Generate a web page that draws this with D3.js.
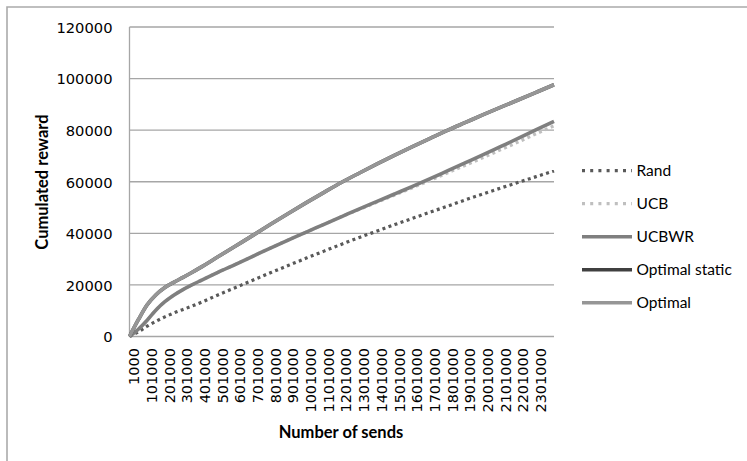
<!DOCTYPE html>
<html>
<head>
<meta charset="utf-8">
<script src="https://cdn.jsdelivr.net/npm/d3@7/dist/d3.min.js"></script>
<style>
  html, body { margin: 0; padding: 0; background: #fff; }
  svg { display: block; }
</style>
</head>
<body>
<svg id="chart" width="747" height="461"></svg>
<script>
// Number of sends at which the cumulated reward was sampled
const sends = [1000, 51000, 101000, 151000, 201000, 251000, 301000, 351000, 401000,
  501000, 601000, 701000, 801000, 901000, 1001000, 1101000, 1201000, 1301000, 1401000,
  1501000, 1601000, 1701000, 1801000, 1901000, 2001000, 2101000, 2201000, 2301000, 2401000];

const rand = [0, 1800, 4000, 5900, 7600, 9100, 10400, 11700, 13100,
  16100, 19000, 21900, 24800, 27600, 30400, 33100, 35800, 38400, 40900,
  43400, 45800, 48200, 50600, 53000, 55300, 57600, 59800, 62000, 64200];

const ucb = [0, 2800, 6300, 10300, 13500, 16000, 18100, 19900, 21600,
  24900, 28000, 31200, 34400, 37500, 40500, 43500, 46500, 49300, 52100,
  54900, 57700, 60550, 63500, 66450, 69400, 72450, 75500, 78650, 81700];

const ucbwr = [0, 2800, 6300, 10300, 13500, 16000, 18100, 19900, 21600,
  24900, 28000, 31200, 34400, 37500, 40500, 43500, 46500, 49500, 52400,
  55300, 58200, 61200, 64300, 67400, 70500, 73700, 76900, 80200, 83400];

const optimalStatic = [0, 6500, 12300, 16200, 19000, 21000, 22800, 24700, 26700,
  30900, 35100, 39300, 43600, 47800, 51900, 55900, 59800, 63400, 66900,
  70300, 73600, 76800, 80000, 83000, 86000, 88900, 91800, 94700, 97600];

const optimal = [0, 6500, 12300, 16200, 19000, 21000, 22800, 24700, 26700,
  30900, 35100, 39300, 43600, 47800, 51900, 55900, 59800, 63400, 66900,
  70300, 73600, 76800, 80000, 83000, 86000, 88900, 91800, 94700, 97600];

const xTickLabels = [1000, 101000, 201000, 301000, 401000, 501000, 601000, 701000,
  801000, 901000, 1001000, 1101000, 1201000, 1301000, 1401000, 1501000, 1601000,
  1701000, 1801000, 1901000, 2001000, 2101000, 2201000, 2301000];

const yTicks = [0, 20000, 40000, 60000, 80000, 100000, 120000];

const seriesNames = ["Rand", "UCB", "UCBWR", "Optimal static", "Optimal"];
const seriesValues = [rand, ucb, ucbwr, optimalStatic, optimal];
const seriesColors = ["#595959", "#bfbfbf", "#7f7f7f", "#404040", "#969696"];
const seriesDash = ["3,3.4", "3,3.4", null, null, null];

const svg = d3.select("#chart");

// outer chart frame
svg.append("path")
  .attr("d", "M7,461V7H747")
  .attr("fill", "none")
  .attr("stroke", "#ababab")
  .attr("stroke-width", 1.6);

const x = d3.scaleLinear().domain([1000, 2401000]).range([129.5, 554]);
const y = d3.scaleLinear().domain([0, 120000]).range([336.5, 27]);

// horizontal gridlines
svg.append("g")
  .selectAll("line")
  .data(yTicks)
  .join("line")
  .attr("x1", 129.5).attr("x2", 554)
  .attr("y1", d => y(d)).attr("y2", d => y(d))
  .attr("stroke", "#a6a6a6")
  .attr("stroke-width", 1.3);

// vertical axis line
svg.append("line")
  .attr("x1", 129.5).attr("x2", 129.5)
  .attr("y1", y(120000)).attr("y2", y(0))
  .attr("stroke", "#a6a6a6")
  .attr("stroke-width", 1.3);

// y tick labels
const yAxis = d3.axisLeft(y).tickValues(yTicks).tickSize(0).tickPadding(0).tickFormat(d3.format("d"));
const gy = svg.append("g").attr("transform", "translate(112.5,0)").call(yAxis);
gy.select(".domain").remove();
gy.selectAll("text")
  .attr("font-family", "'DejaVu Sans', sans-serif")
  .attr("font-size", "14.7px")
  .attr("fill", "#000")
  .attr("x", 0)
  .attr("dy", "0.36em");

// x tick labels, rotated
const xAxis = d3.axisBottom(x).tickValues(xTickLabels).tickSize(0).tickPadding(0).tickFormat(d3.format("d"));
const gx = svg.append("g").attr("transform", "translate(4,0)").call(xAxis);
gx.select(".domain").remove();
gx.selectAll("text")
  .attr("font-family", "'DejaVu Sans', sans-serif")
  .attr("font-size", "14.5px")
  .attr("fill", "#000")
  .attr("text-anchor", "end")
  .attr("transform", "translate(0,348) rotate(-90)")
  .attr("x", 0).attr("y", 0)
  .attr("dy", "0.36em");

// series lines
const line = d3.line()
  .x((d, i) => x(sends[i]))
  .y(d => y(d))
  .curve(d3.curveMonotoneX);

svg.append("g")
  .selectAll("path")
  .data(seriesValues)
  .join("path")
  .attr("d", d => line(d))
  .attr("fill", "none")
  .attr("stroke", (d, i) => seriesColors[i])
  .attr("stroke-width", (d, i) => seriesDash[i] ? 3.2 : 3.6)
  .attr("stroke-dasharray", (d, i) => seriesDash[i])
  .attr("stroke-linejoin", "round");

// axis titles
svg.append("text")
  .attr("transform", "translate(48,182) rotate(-90)")
  .attr("text-anchor", "middle")
  .attr("font-family", "Lato, sans-serif")
  .attr("font-weight", "bold")
  .attr("font-size", "16.5px")
  .text("Cumulated reward");

svg.append("text")
  .attr("x", 341)
  .attr("y", 438)
  .attr("text-anchor", "middle")
  .attr("font-family", "Lato, sans-serif")
  .attr("font-weight", "bold")
  .attr("font-size", "16.5px")
  .text("Number of sends");

// legend
const legend = svg.append("g")
  .selectAll("g")
  .data(seriesNames)
  .join("g")
  .attr("transform", (d, i) => `translate(582,${170.7 + i * 33})`);

legend.append("line")
  .attr("x1", 0).attr("x2", 50)
  .attr("stroke", (d, i) => seriesColors[i])
  .attr("stroke-width", (d, i) => seriesDash[i] ? 3.2 : 3.6)
  .attr("stroke-dasharray", (d, i) => seriesDash[i] ? "3,5.2" : null);

legend.append("text")
  .attr("x", 54.5)
  .attr("dy", "0.36em")
  .attr("font-family", "Lato, sans-serif")
  .attr("font-size", "15.5px")
  .attr("fill", "#000")
  .text(d => d);
</script>
</body>
</html>
